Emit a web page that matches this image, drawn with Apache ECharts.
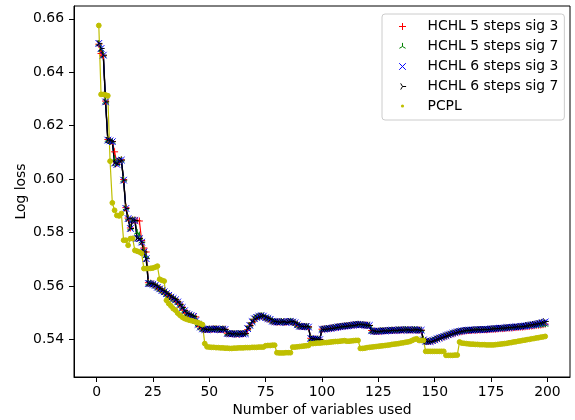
<!DOCTYPE html>
<html>
<head>
<meta charset="utf-8">
<script src="https://cdn.jsdelivr.net/npm/echarts@6/dist/echarts.min.js"></script>
<style>
  html, body { margin: 0; padding: 0; background: #fff; }
  #chart { width: 575px; height: 420px; }
</style>
</head>
<body>
<div id="chart"></div>
<script>
// number of variables used: 1 .. 199
var nVars = [];
for (var i = 1; i <= 199; i++) nVars.push(i);

var xTicks = [0, 25, 50, 75, 100, 125, 150, 175, 200];
var yTicks = [0.54, 0.56, 0.58, 0.60, 0.62, 0.64, 0.66];

// HCHL 5 steps sig 3
var hchl5s3 = [
  0.6505, 0.6470, 0.6462, 0.6292, 0.6148, 0.6144, 0.6141, 0.6102, 0.6060, 0.6069,
  0.6072, 0.5998, 0.5893, 0.5854, 0.5817, 0.5847, 0.5846, 0.5845, 0.5843, 0.5770,
  0.5742, 0.5727, 0.5612, 0.5610, 0.5607, 0.5603, 0.5597, 0.5590, 0.5585, 0.5579,
  0.5573, 0.5566, 0.5560, 0.5554, 0.5549, 0.5541, 0.5532, 0.5521, 0.5509, 0.5498,
  0.5494, 0.5490, 0.5486, 0.5484, 0.5458, 0.5447, 0.5440, 0.5438, 0.5437, 0.5438,
  0.5438, 0.5439, 0.5439, 0.5438, 0.5437, 0.5438, 0.5438, 0.5423, 0.5422, 0.5421,
  0.5421, 0.5420, 0.5420, 0.5421, 0.5421, 0.5422, 0.5436, 0.5450, 0.5463, 0.5475,
  0.5480, 0.5485, 0.5487, 0.5486, 0.5480, 0.5477, 0.5474, 0.5468, 0.5466, 0.5465,
  0.5465, 0.5466, 0.5466, 0.5464, 0.5466, 0.5466, 0.5465, 0.5462, 0.5456, 0.5450,
  0.5449, 0.5448, 0.5448, 0.5447, 0.5404, 0.5401, 0.5401, 0.5400, 0.5400, 0.5438,
  0.5439, 0.5440, 0.5441, 0.5442, 0.5443, 0.5445, 0.5446, 0.5447, 0.5449, 0.5450,
  0.5451, 0.5452, 0.5453, 0.5454, 0.5455, 0.5456, 0.5456, 0.5455, 0.5454, 0.5453,
  0.5452, 0.5433, 0.5431, 0.5430, 0.5430, 0.5431, 0.5432, 0.5432, 0.5433, 0.5433,
  0.5434, 0.5434, 0.5434, 0.5435, 0.5435, 0.5435, 0.5436, 0.5436, 0.5435, 0.5435,
  0.5436, 0.5435, 0.5435, 0.5434, 0.5399, 0.5394, 0.5392, 0.5392, 0.5394, 0.5397,
  0.5400, 0.5403, 0.5406, 0.5409, 0.5412, 0.5415, 0.5418, 0.5421, 0.5423, 0.5426,
  0.5428, 0.5429, 0.5431, 0.5432, 0.5433, 0.5433, 0.5434, 0.5434, 0.5435, 0.5435,
  0.5436, 0.5436, 0.5436, 0.5437, 0.5437, 0.5438, 0.5438, 0.5439, 0.5440, 0.5440,
  0.5441, 0.5442, 0.5442, 0.5443, 0.5444, 0.5444, 0.5445, 0.5446, 0.5446, 0.5447,
  0.5448, 0.5449, 0.5450, 0.5451, 0.5452, 0.5453, 0.5454, 0.5455, 0.5457
];

// HCHL 5 steps sig 7
var hchl5s7 = [
  0.6507, 0.6485, 0.6463, 0.6290, 0.6147, 0.6143, 0.6140, 0.6075, 0.6057, 0.6068,
  0.6071, 0.5997, 0.5891, 0.5853, 0.5816, 0.5846, 0.5846, 0.5800, 0.5790, 0.5767,
  0.5735, 0.5712, 0.5610, 0.5609, 0.5606, 0.5602, 0.5596, 0.5589, 0.5584, 0.5578,
  0.5572, 0.5565, 0.5559, 0.5553, 0.5548, 0.5540, 0.5531, 0.5520, 0.5508, 0.5497,
  0.5493, 0.5489, 0.5486, 0.5477, 0.5457, 0.5446, 0.5439, 0.5437, 0.5437, 0.5438,
  0.5437, 0.5438, 0.5439, 0.5437, 0.5437, 0.5438, 0.5437, 0.5422, 0.5421, 0.5420,
  0.5421, 0.5420, 0.5420, 0.5421, 0.5420, 0.5421, 0.5438, 0.5451, 0.5465, 0.5476,
  0.5481, 0.5486, 0.5488, 0.5487, 0.5481, 0.5478, 0.5475, 0.5468, 0.5466, 0.5465,
  0.5464, 0.5466, 0.5465, 0.5463, 0.5466, 0.5467, 0.5465, 0.5462, 0.5455, 0.5449,
  0.5448, 0.5447, 0.5448, 0.5446, 0.5403, 0.5401, 0.5400, 0.5400, 0.5399, 0.5437,
  0.5438, 0.5439, 0.5440, 0.5441, 0.5443, 0.5444, 0.5446, 0.5447, 0.5448, 0.5449,
  0.5450, 0.5451, 0.5452, 0.5453, 0.5455, 0.5456, 0.5455, 0.5454, 0.5453, 0.5452,
  0.5452, 0.5432, 0.5430, 0.5429, 0.5430, 0.5431, 0.5432, 0.5431, 0.5432, 0.5433,
  0.5434, 0.5433, 0.5434, 0.5435, 0.5434, 0.5435, 0.5436, 0.5435, 0.5434, 0.5435,
  0.5436, 0.5435, 0.5434, 0.5434, 0.5398, 0.5393, 0.5391, 0.5392, 0.5394, 0.5397,
  0.5400, 0.5403, 0.5406, 0.5409, 0.5412, 0.5415, 0.5418, 0.5421, 0.5423, 0.5426,
  0.5428, 0.5429, 0.5431, 0.5432, 0.5433, 0.5433, 0.5434, 0.5434, 0.5435, 0.5435,
  0.5436, 0.5436, 0.5436, 0.5437, 0.5437, 0.5438, 0.5438, 0.5439, 0.5440, 0.5440,
  0.5441, 0.5442, 0.5442, 0.5443, 0.5444, 0.5444, 0.5445, 0.5446, 0.5446, 0.5447,
  0.5448, 0.5449, 0.5450, 0.5450, 0.5451, 0.5452, 0.5453, 0.5454, 0.5455
];

// HCHL 6 steps sig 3
var hchl6s3 = [
  0.6508, 0.6489, 0.6464, 0.6289, 0.6146, 0.6143, 0.6140, 0.6060, 0.6055, 0.6068,
  0.6071, 0.5996, 0.5890, 0.5852, 0.5815, 0.5846, 0.5845, 0.5778, 0.5777, 0.5764,
  0.5727, 0.5702, 0.5609, 0.5608, 0.5606, 0.5602, 0.5595, 0.5589, 0.5583, 0.5578,
  0.5571, 0.5565, 0.5558, 0.5553, 0.5548, 0.5540, 0.5530, 0.5519, 0.5507, 0.5496,
  0.5492, 0.5488, 0.5486, 0.5470, 0.5456, 0.5446, 0.5439, 0.5437, 0.5436, 0.5438,
  0.5437, 0.5438, 0.5439, 0.5437, 0.5436, 0.5438, 0.5437, 0.5422, 0.5421, 0.5420,
  0.5421, 0.5419, 0.5420, 0.5421, 0.5420, 0.5421, 0.5440, 0.5452, 0.5466, 0.5477,
  0.5482, 0.5486, 0.5488, 0.5487, 0.5481, 0.5478, 0.5475, 0.5468, 0.5466, 0.5465,
  0.5464, 0.5466, 0.5465, 0.5463, 0.5466, 0.5467, 0.5465, 0.5462, 0.5455, 0.5449,
  0.5448, 0.5447, 0.5448, 0.5446, 0.5403, 0.5401, 0.5400, 0.5400, 0.5399, 0.5437,
  0.5438, 0.5439, 0.5440, 0.5441, 0.5443, 0.5444, 0.5446, 0.5447, 0.5448, 0.5449,
  0.5450, 0.5451, 0.5452, 0.5453, 0.5455, 0.5456, 0.5455, 0.5454, 0.5453, 0.5452,
  0.5452, 0.5432, 0.5430, 0.5429, 0.5430, 0.5431, 0.5432, 0.5431, 0.5432, 0.5433,
  0.5434, 0.5433, 0.5434, 0.5435, 0.5434, 0.5435, 0.5436, 0.5435, 0.5434, 0.5435,
  0.5436, 0.5435, 0.5434, 0.5434, 0.5398, 0.5393, 0.5391, 0.5392, 0.5395, 0.5398,
  0.5402, 0.5405, 0.5408, 0.5411, 0.5414, 0.5417, 0.5420, 0.5423, 0.5425, 0.5428,
  0.5430, 0.5431, 0.5433, 0.5434, 0.5434, 0.5435, 0.5435, 0.5436, 0.5436, 0.5436,
  0.5437, 0.5437, 0.5437, 0.5438, 0.5439, 0.5440, 0.5440, 0.5441, 0.5442, 0.5442,
  0.5443, 0.5444, 0.5444, 0.5445, 0.5446, 0.5447, 0.5447, 0.5448, 0.5449, 0.5450,
  0.5451, 0.5452, 0.5453, 0.5455, 0.5456, 0.5458, 0.5460, 0.5462, 0.5465
];

// HCHL 6 steps sig 7
var hchl6s7 = [
  0.6508, 0.6489, 0.6464, 0.6289, 0.6146, 0.6143, 0.6140, 0.6060, 0.6055, 0.6068,
  0.6071, 0.5996, 0.5890, 0.5852, 0.5815, 0.5846, 0.5845, 0.5778, 0.5777, 0.5764,
  0.5727, 0.5702, 0.5609, 0.5608, 0.5606, 0.5602, 0.5595, 0.5589, 0.5583, 0.5578,
  0.5571, 0.5565, 0.5558, 0.5553, 0.5548, 0.5540, 0.5530, 0.5519, 0.5507, 0.5496,
  0.5492, 0.5488, 0.5486, 0.5470, 0.5456, 0.5446, 0.5439, 0.5437, 0.5436, 0.5438,
  0.5437, 0.5438, 0.5439, 0.5437, 0.5436, 0.5438, 0.5437, 0.5422, 0.5421, 0.5420,
  0.5421, 0.5419, 0.5420, 0.5421, 0.5420, 0.5421, 0.5440, 0.5452, 0.5466, 0.5477,
  0.5482, 0.5486, 0.5488, 0.5487, 0.5481, 0.5478, 0.5475, 0.5468, 0.5466, 0.5465,
  0.5464, 0.5466, 0.5465, 0.5463, 0.5466, 0.5467, 0.5465, 0.5462, 0.5455, 0.5449,
  0.5448, 0.5447, 0.5448, 0.5446, 0.5403, 0.5401, 0.5400, 0.5400, 0.5399, 0.5437,
  0.5438, 0.5439, 0.5440, 0.5441, 0.5443, 0.5444, 0.5446, 0.5447, 0.5448, 0.5449,
  0.5450, 0.5451, 0.5452, 0.5453, 0.5455, 0.5456, 0.5455, 0.5454, 0.5453, 0.5452,
  0.5452, 0.5432, 0.5430, 0.5429, 0.5430, 0.5431, 0.5432, 0.5431, 0.5432, 0.5433,
  0.5434, 0.5433, 0.5434, 0.5435, 0.5434, 0.5435, 0.5436, 0.5435, 0.5434, 0.5435,
  0.5436, 0.5435, 0.5434, 0.5434, 0.5398, 0.5393, 0.5391, 0.5392, 0.5395, 0.5398,
  0.5402, 0.5405, 0.5408, 0.5411, 0.5414, 0.5417, 0.5420, 0.5423, 0.5425, 0.5428,
  0.5430, 0.5431, 0.5433, 0.5434, 0.5434, 0.5435, 0.5435, 0.5436, 0.5436, 0.5436,
  0.5437, 0.5437, 0.5437, 0.5438, 0.5439, 0.5440, 0.5440, 0.5441, 0.5442, 0.5442,
  0.5443, 0.5444, 0.5444, 0.5445, 0.5446, 0.5447, 0.5447, 0.5448, 0.5449, 0.5450,
  0.5453, 0.5454, 0.5455, 0.5457, 0.5458, 0.5460, 0.5462, 0.5464, 0.5467
];

// PCPL
var pcpl = [
  0.6575, 0.6317, 0.6317, 0.6315, 0.6312, 0.6067, 0.5911, 0.5883, 0.5864, 0.5862,
  0.5871, 0.5771, 0.5771, 0.5752, 0.5777, 0.5778, 0.5733, 0.5730, 0.5727, 0.5722,
  0.5665, 0.5665, 0.5665, 0.5666, 0.5667, 0.5670, 0.5674, 0.5625, 0.5621, 0.5618,
  0.5546, 0.5534, 0.5525, 0.5515, 0.5509, 0.5498, 0.5490, 0.5483, 0.5478, 0.5475,
  0.5472, 0.5470, 0.5468, 0.5465, 0.5462, 0.5459, 0.5455, 0.5384, 0.5372, 0.5371,
  0.5370, 0.5370, 0.5369, 0.5369, 0.5368, 0.5368, 0.5367, 0.5367, 0.5366, 0.5366,
  0.5367, 0.5367, 0.5368, 0.5368, 0.5368, 0.5369, 0.5369, 0.5369, 0.5370, 0.5370,
  0.5370, 0.5371, 0.5371, 0.5371, 0.5376, 0.5377, 0.5377, 0.5378, 0.5378, 0.5350,
  0.5349, 0.5349, 0.5349, 0.5350, 0.5350, 0.5350, 0.5371, 0.5371, 0.5372, 0.5373,
  0.5374, 0.5375, 0.5376, 0.5377, 0.5384, 0.5384, 0.5385, 0.5386, 0.5386, 0.5387,
  0.5388, 0.5388, 0.5389, 0.5390, 0.5391, 0.5392, 0.5392, 0.5393, 0.5394, 0.5395,
  0.5393, 0.5393, 0.5394, 0.5395, 0.5396, 0.5396, 0.5366, 0.5366, 0.5367, 0.5369,
  0.5370, 0.5371, 0.5372, 0.5373, 0.5374, 0.5375, 0.5376, 0.5377, 0.5378, 0.5379,
  0.5381, 0.5382, 0.5383, 0.5384, 0.5386, 0.5387, 0.5389, 0.5390, 0.5392, 0.5396,
  0.5400, 0.5402, 0.5396, 0.5396, 0.5396, 0.5355, 0.5355, 0.5355, 0.5355, 0.5355,
  0.5355, 0.5355, 0.5355, 0.5355, 0.5340, 0.5340, 0.5340, 0.5340, 0.5341, 0.5341,
  0.5390, 0.5386, 0.5385, 0.5384, 0.5383, 0.5382, 0.5382, 0.5381, 0.5381, 0.5380,
  0.5380, 0.5380, 0.5379, 0.5379, 0.5379, 0.5379, 0.5380, 0.5381, 0.5382, 0.5383,
  0.5384, 0.5385, 0.5387, 0.5388, 0.5390, 0.5391, 0.5393, 0.5394, 0.5396, 0.5397,
  0.5399, 0.5400, 0.5402, 0.5403, 0.5405, 0.5406, 0.5408, 0.5409, 0.5411
];

var FONT = 'DejaVu Sans';

// marker shapes, drawn in a 20x20 box so the icon keeps a 1px = 1 unit scale
var PLUS = 'path://M0,0M20,20M10,6.5L10,13.5M6.5,10L13.5,10';
var CROSS = 'path://M0,0M20,20M6.7,6.7L13.3,13.3M13.3,6.7L6.7,13.3';
var TRI_UP = 'path://M0,0M20,20M10,10L10,6.4M10,10L6.9,11.8M10,10L13.1,11.8';
var TRI_RIGHT = 'path://M0,0M20,20M10,10L13.6,10M10,10L8.2,6.9M10,10L8.2,13.1';
var DOT = 'path://M0,0M20,20M8.4,10A1.6,1.6,0,1,1,11.6,10A1.6,1.6,0,1,1,8.4,10Z';

function makeSeries(name, values, color, symbol, size, lw) {
  return {
    name: name,
    type: 'line',
    data: values.map(function (v, i) { return [nVars[i], v]; }),
    symbol: symbol,
    symbolSize: size,
    showSymbol: true,
    lineStyle: { color: color, width: lw },
    itemStyle: { color: color, borderColor: color, borderWidth: 1 },
    emphasis: { disabled: true },
    animation: false
  };
}

var chart = echarts.init(document.getElementById('chart'));
chart.setOption({
  backgroundColor: '#fff',
  animation: false,
  grid: {
    left: 74, right: 5, top: 6, bottom: 43,
    show: true, borderColor: '#000', borderWidth: 1,
    outerBoundsMode: 'none'
  },
  legend: {
    orient: 'vertical',
    left: 382, top: 14,
    padding: [2, 6, 4, 10],
    itemGap: -1,
    itemWidth: 40,
    itemHeight: 20,
    backgroundColor: '#fff',
    borderColor: '#cccccc',
    borderWidth: 1,
    borderRadius: 3,
    itemStyle: { borderWidth: 1 },
    textStyle: { fontFamily: FONT, fontSize: 13.9, color: '#000' },
    data: [
      { name: 'HCHL 5 steps sig 3', icon: PLUS, itemStyle: { color: 'red', borderColor: 'red' } },
      { name: 'HCHL 5 steps sig 7', icon: TRI_UP, itemStyle: { color: 'green', borderColor: 'green' } },
      { name: 'HCHL 6 steps sig 3', icon: CROSS, itemStyle: { color: 'blue', borderColor: 'blue' } },
      { name: 'HCHL 6 steps sig 7', icon: TRI_RIGHT, itemStyle: { color: 'black', borderColor: 'black' } },
      { name: 'PCPL', icon: DOT, itemStyle: { color: '#bfbf00', borderColor: '#bfbf00', borderWidth: 0 } }
    ]
  },
  xAxis: {
    type: 'value',
    min: -10, max: 210,
    name: 'Number of variables used',
    nameLocation: 'middle',
    nameGap: 26,
    nameMoveOverlap: false,
    nameTextStyle: { fontFamily: FONT, fontSize: 13.9, color: '#000' },
    axisLine: { show: true, onZero: false, lineStyle: { color: '#000', width: 1 } },
    axisTick: { show: true, length: 5, customValues: xTicks, lineStyle: { color: '#000', width: 1 } },
    axisLabel: { customValues: xTicks, margin: 8, fontFamily: FONT, fontSize: 13.9, color: '#000' },
    splitLine: { show: false }
  },
  yAxis: {
    type: 'value',
    min: 0.5259, max: 0.6648,
    name: 'Log loss',
    nameLocation: 'middle',
    nameGap: 46,
    nameMoveOverlap: false,
    nameTextStyle: { fontFamily: FONT, fontSize: 13.9, color: '#000' },
    axisLine: { show: true, onZero: false, lineStyle: { color: '#000', width: 1 } },
    axisTick: { show: true, length: 5, customValues: yTicks, lineStyle: { color: '#000', width: 1 } },
    axisLabel: {
      customValues: yTicks, margin: 10, fontFamily: FONT, fontSize: 13.9, color: '#000',
      formatter: function (v) { return v.toFixed(2); }
    },
    splitLine: { show: false }
  },
  series: [
    makeSeries('HCHL 5 steps sig 3', hchl5s3, 'red', PLUS, 20, 1.2),
    makeSeries('HCHL 5 steps sig 7', hchl5s7, 'green', TRI_UP, 20, 1.2),
    makeSeries('HCHL 6 steps sig 3', hchl6s3, 'blue', CROSS, 20, 1.2),
    makeSeries('HCHL 6 steps sig 7', hchl6s7, 'black', TRI_RIGHT, 20, 1.4),
    makeSeries('PCPL', pcpl, '#bfbf00', 'circle', 4.8, 1.2)
  ]
});
</script>
</body>
</html>
